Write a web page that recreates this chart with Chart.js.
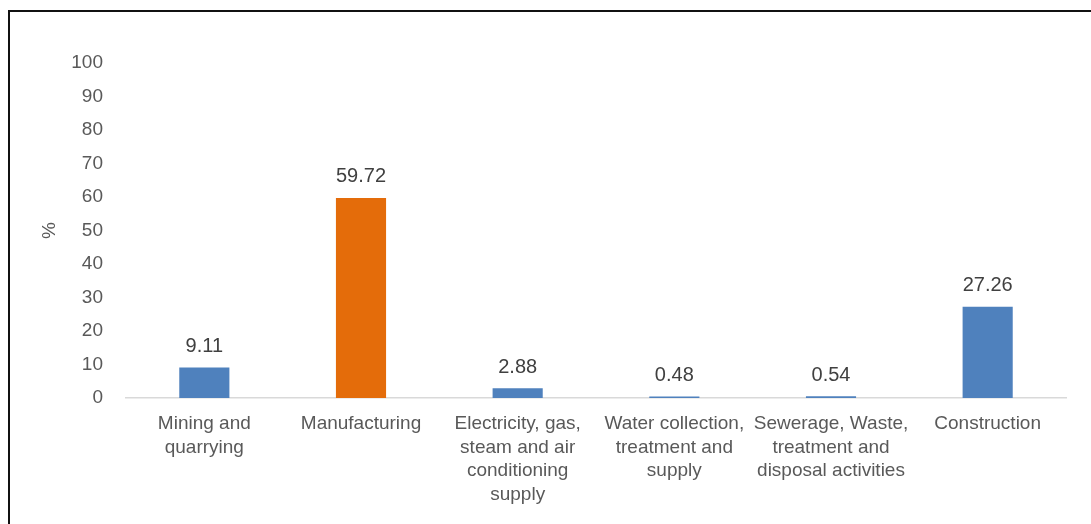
<!DOCTYPE html>
<html>
<head>
<meta charset="utf-8">
<script src="https://cdn.jsdelivr.net/npm/chart.js@4"></script>
<style>
  html, body { margin: 0; padding: 0; background: #fff; }
  #wrap { position: relative; width: 1091px; height: 524px; overflow: hidden; }
  #frame { position: absolute; left: 8px; top: 10px; width: 1200px; height: 600px; border: 2px solid #111; box-sizing: border-box; }
  canvas { position: absolute; left: 0; top: 0; }
</style>
</head>
<body>
<div id="wrap">
  <div id="frame"></div>
  <canvas id="c" width="1091" height="524"></canvas>
</div>
<script>
const categories = [
  ["Mining and", "quarrying"],
  ["Manufacturing"],
  ["Electricity, gas,", "steam and air", "conditioning", "supply"],
  ["Water collection,", "treatment and", "supply"],
  ["Sewerage, Waste,", "treatment and", "disposal activities"],
  ["Construction"]
];
const values = [9.11, 59.72, 2.88, 0.48, 0.54, 27.26];
const valueLabels = ["9.11", "59.72", "2.88", "0.48", "0.54", "27.26"];
const barColors = ["#4F81BD", "#E46C0A", "#4F81BD", "#4F81BD", "#4F81BD", "#4F81BD"];
const yMin = 0, yMax = 100, yStep = 10;
const yTitle = "%";

const FONT = "'Liberation Sans', Arial, sans-serif";
const TEXT = "#595959";

const labelPlugin = {
  id: 'valueLabels',
  afterDatasetsDraw(chart) {
    const ctx = chart.ctx;
    const meta = chart.getDatasetMeta(0);
    ctx.save();
    ctx.font = "20px " + FONT;
    ctx.fillStyle = "#404040";
    ctx.textAlign = "center";
    ctx.textBaseline = "middle";
    meta.data.forEach((bar, i) => {
      ctx.fillText(valueLabels[i], bar.x, bar.y - 21);
    });
    ctx.restore();
  }
};

new Chart(document.getElementById('c'), {
  type: 'bar',
  data: {
    labels: categories,
    datasets: [{
      data: values,
      backgroundColor: barColors,
      borderWidth: 0,
      categoryPercentage: 1.0,
      barPercentage: 0.32
    }]
  },
  options: {
    responsive: false,
    animation: false,
    devicePixelRatio: 1,
    layout: { padding: { top: 63, right: 25, left: 0, bottom: 0 } },
    plugins: { legend: { display: false }, tooltip: { enabled: false } },
    scales: {
      x: {
        grid: { display: false, drawTicks: false },
        border: { display: true, color: "#D9D9D9", width: 1.5 },
        ticks: {
          color: TEXT, padding: 14, maxRotation: 0, autoSkip: false,
          font: { family: FONT, size: 19, lineHeight: 1.24 }
        },
        afterFit(scale) { scale.height = 126; }
      },
      y: {
        min: yMin, max: yMax,
        grid: { display: false, drawTicks: false },
        border: { display: false },
        ticks: {
          stepSize: yStep, color: TEXT, padding: 23,
          font: { family: FONT, size: 19 }
        },
        title: {
          display: true, text: yTitle, color: TEXT,
          font: { family: FONT, size: 19 },
          padding: { top: 38, bottom: 0 }
        },
        afterFit(scale) { scale.width = 126; }
      }
    }
  },
  plugins: [labelPlugin]
});
</script>
</body>
</html>
